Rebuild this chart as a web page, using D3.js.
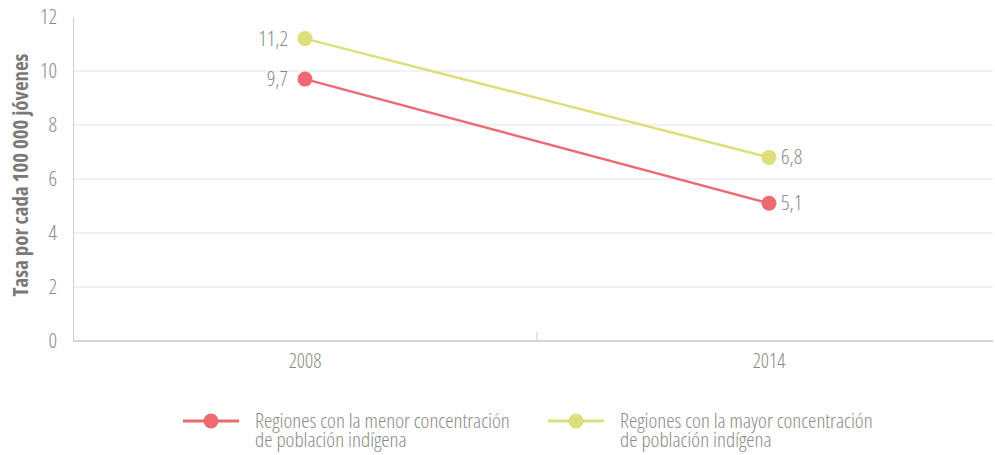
<!DOCTYPE html>
<html>
<head>
<meta charset="utf-8">
<script src="https://cdn.jsdelivr.net/npm/d3@7"></script>
<style>
  body { margin: 0; background: #fff; }
  svg text { font-family: "Open Sans", sans-serif; font-stretch: 75%; font-weight: 300; }
</style>
</head>
<body>
<div id="chart"></div>
<script>
// data
const years = ["2008", "2014"]
const menor = [9.7, 5.1]
const mayor = [11.2, 6.8]
const yTicks = [0, 2, 4, 6, 8, 10, 12]
const seriesNames = [
    ["Regiones con la menor concentración", "de población indígena"],
    ["Regiones con la mayor concentración", "de población indígena"]
]

const width = 995, height = 455
const margin = { top: 17, right: -6, bottom: 114, left: 73 }
const colors = ["#ee6a73", "#dde07a"]

const svg = d3.select("#chart").append("svg")
    .attr("width", width)
    .attr("height", height)

const x = d3.scaleBand()
    .domain(years)
    .range([margin.left, width - margin.right])

const y = d3.scaleLinear()
    .domain([0, 12])
    .range([height - margin.bottom, margin.top])

// grid
svg.append("g")
    .selectAll("line")
    .data(yTicks.filter(d => d > 0 && d < 12))
    .join("line")
    .attr("x1", margin.left)
    .attr("x2", 993)
    .attr("y1", d => y(d))
    .attr("y2", d => y(d))
    .attr("stroke", "#e3e3e3")
    .attr("stroke-width", 1)

// y axis
const yAxis = svg.append("g")
    .attr("transform", `translate(${margin.left},0)`)
    .call(d3.axisLeft(y).tickValues(yTicks).tickSize(0).tickPadding(16))
yAxis.select(".domain").attr("stroke", "#d0d0d0")
yAxis.selectAll("text")
    .attr("fill", "#8a8a8a")
    .attr("font-size", 21)

// x axis
const xAxis = svg.append("g")
    .attr("transform", `translate(0,${y(0)})`)
    .call(d3.axisBottom(x).tickSize(0).tickPadding(13))
xAxis.select(".domain").remove()
xAxis.append("line")
    .attr("x1", margin.left).attr("x2", 993)
    .attr("stroke", "#c8c8c8").attr("stroke-width", 1.5)
xAxis.append("line")
    .attr("x1", x(years[1])).attr("x2", x(years[1]))
    .attr("y1", 0).attr("y2", -9)
    .attr("stroke", "#c8c8c8")
xAxis.selectAll("text")
    .attr("fill", "#8a8a8a")
    .attr("font-size", 20)

// y title
svg.append("text")
    .attr("transform", `translate(28,175) rotate(-90)`)
    .attr("text-anchor", "middle")
    .attr("font-size", 21)
    .style("font-weight", 700)
    .style("font-stretch", "87.5%")
    .attr("fill", "#7a7a7a")
    .text("Tasa por cada 100 000 jóvenes")

const cx = d => x(d) + x.bandwidth() / 2
const fmt = v => String(v).replace(".", ",")

const line = d3.line()
    .x(d => cx(d.year))
    .y(d => y(d.value))

const series = [menor, mayor].map((vals, i) => ({
    color: colors[i],
    points: years.map((yr, j) => ({ year: yr, value: vals[j] }))
}))

series.forEach(s => {
    svg.append("path")
        .datum(s.points)
        .attr("d", line)
        .attr("fill", "none")
        .attr("stroke", s.color)
        .attr("stroke-width", 2.5)

    svg.selectAll(null)
        .data(s.points)
        .join("circle")
        .attr("cx", d => cx(d.year))
        .attr("cy", d => y(d.value))
        .attr("r", 7.5)
        .attr("fill", s.color)

    svg.selectAll(null)
        .data(s.points)
        .join("text")
        .attr("x", (d, j) => cx(d.year) + (j === 0 ? -17 : 12))
        .attr("y", d => y(d.value) + 7)
        .attr("text-anchor", (d, j) => j === 0 ? "end" : "start")
        .attr("font-size", 21)
        .attr("fill", "#8a8a8a")
        .text(d => fmt(d.value))
})

// legend - both lines in one text element
const legendX = [183, 548]
seriesNames.forEach((lines, i) => {
    const g = svg.append("g").attr("transform", `translate(${legendX[i]},421)`)
    g.append("line")
        .attr("x1", 0).attr("x2", 56)
        .attr("stroke", colors[i]).attr("stroke-width", 3)
    g.append("circle")
        .attr("cx", 28).attr("r", 7.5)
        .attr("fill", colors[i])
    g.append("text")
        .attr("font-size", 21)
        .attr("fill", "#8a8a8a")
        .selectAll("tspan")
        .data(lines)
        .join("tspan")
        .attr("x", 72)
        .attr("y", (d, j) => 7 + j * 19)
        .text(d => d)
})
</script>
</body>
</html>
